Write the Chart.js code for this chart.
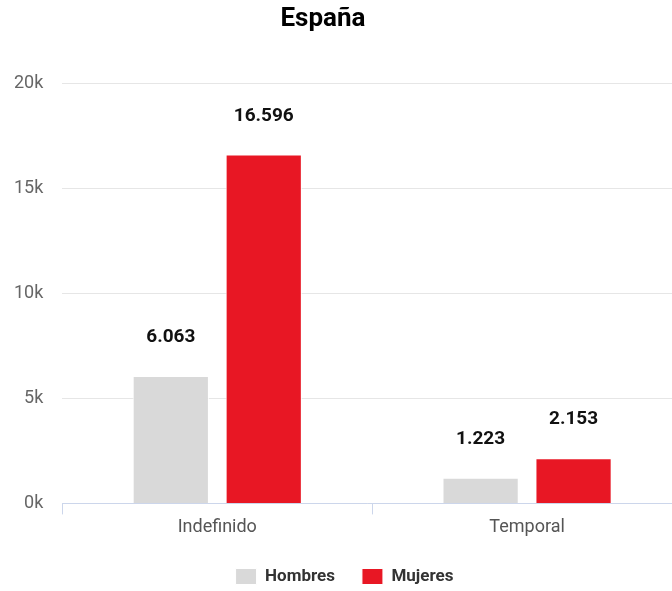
<!DOCTYPE html>
<html>
<head>
<meta charset="utf-8">
<script src="https://cdn.jsdelivr.net/npm/chart.js@4"></script>
<style>
  html, body { margin: 0; padding: 0; background: #fff; }
  #wrap { width: 672px; height: 591px; }
</style>
</head>
<body>
<div id="wrap"><canvas id="espanaChart"></canvas></div>
<script>
const categories = ['Indefinido', 'Temporal'];
const hombres = [6063, 1223];
const mujeres = [16596, 2153];
const yTicks = [0, 5000, 10000, 15000, 20000];
const titulo = 'España';

// valores encima de cada barra, con punto de miles
const valueLabels = {
    id: 'valueLabels',
    afterDatasetsDraw(chart) {
        const c = chart.ctx;
        c.save();
        c.font = 'bold 19px Roboto, sans-serif';
        c.fillStyle = '#111';
        c.textAlign = 'center';
        c.textBaseline = 'alphabetic';
        chart.data.datasets.forEach((ds, i) => {
            chart.getDatasetMeta(i).data.forEach((bar, j) => {
                const txt = ds.data[j].toLocaleString('de-DE');
                c.fillText(txt, bar.x, bar.y - 34);
            });
        });
        c.restore();
    }
};

// ajustes de posición: título algo a la izquierda, leyenda algo a la derecha,
// y el eje x se sale un poco por la derecha como en el original
const ajustes = {
    id: 'ajustes',
    afterLayout(chart) {
        chart.legend.left += 22;
        const x = chart.scales.x;
        x.right += 10;
        x.width += 10;
        x.configure();
    },
    afterDraw(chart) {
        const c = chart.ctx;
        c.save();
        c.font = 'bold 26px Roboto, sans-serif';
        c.fillStyle = '#000';
        c.textAlign = 'center';
        c.textBaseline = 'middle';
        c.fillText(titulo, 323, 19);
        c.restore();
    }
};

const ctx = document.getElementById('espanaChart').getContext('2d');

new Chart(ctx, {
    type: 'bar',
    data: {
        labels: categories,
        datasets: [
            {
                label: 'Hombres',
                data: hombres,
                backgroundColor: '#d9d9d9',
                borderColor: '#ffffff',
                borderWidth: 1,
                categoryPercentage: 0.6,
                barPercentage: 0.82
            },
            {
                label: 'Mujeres',
                data: mujeres,
                backgroundColor: '#e81724',
                borderColor: '#ffffff',
                borderWidth: 1,
                categoryPercentage: 0.6,
                barPercentage: 0.82
            }
        ]
    },
    options: {
        responsive: true,
        maintainAspectRatio: false,
        animation: false,
        layout: { padding: { left: -5, right: 0, top: 83, bottom: -4 } },
        plugins: {
            title: { display: false },
            legend: {
                position: 'bottom',
                labels: {
                    boxWidth: 21,
                    boxHeight: 16,
                    color: '#333',
                    padding: 27,
                    font: { family: 'Roboto, sans-serif', size: 17, weight: 'bold' }
                }
            },
            tooltip: { enabled: false }
        },
        scales: {
            x: {
                afterFit: axis => { axis.height += 1; },
                grid: {
                    display: true,
                    drawOnChartArea: false,
                    drawTicks: true,
                    tickLength: 11,
                    color: '#ccd6eb'
                },
                border: { color: '#ccd6eb' },
                ticks: {
                    color: '#555',
                    padding: 2,
                    font: { family: 'Roboto, sans-serif', size: 18 }
                }
            },
            y: {
                min: 0,
                max: 20000,
                afterBuildTicks: axis => { axis.ticks = yTicks.map(v => ({ value: v })); },
                grid: { color: '#e6e6e6', drawTicks: false },
                border: { display: false },
                ticks: {
                    color: '#666',
                    padding: 19,
                    font: { family: 'Roboto, sans-serif', size: 18 },
                    callback: v => (v / 1000) + 'k'
                }
            }
        }
    },
    plugins: [valueLabels, ajustes]
});
</script>
</body>
</html>
